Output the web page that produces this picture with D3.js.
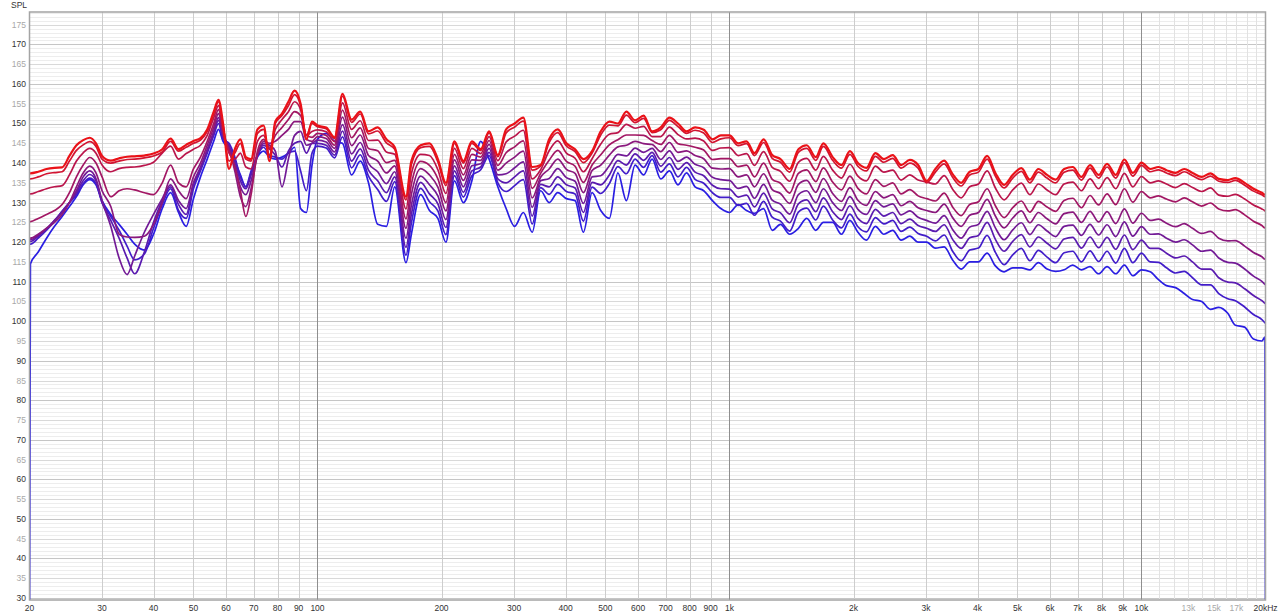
<!DOCTYPE html>
<html lang="en">
<head>
<meta charset="UTF-8" />
<title>SPL</title>
<script src="https://cdn.jsdelivr.net/npm/d3@7"></script>
<style>
  body { margin: 0; background: #fff; }
  svg { display: block; font-family: "Liberation Sans", Arial, sans-serif; }
</style>
</head>
<body>
<div class="chart"></div>
<script>
// frequencies (Hz) shared by every trace
const freqs = [
  20, 20.1, 21, 22, 23, 24, 25, 26, 27, 28, 29, 30, 31.5, 33, 34.5, 36, 38, 40, 42, 44, 46, 48, 50, 52, 54, 56,
  57.5, 59, 61, 63, 65, 67, 69, 71.5, 74, 76.5, 79, 82, 85, 88, 91, 94, 97,
  100, 105, 110, 115, 121, 127, 133, 140, 147, 154, 164, 169, 178, 187, 196, 205, 215, 226, 237, 249,
  261, 274, 287, 301, 316, 332, 348, 365, 383, 402, 422, 442, 464, 487, 511, 536, 562, 590, 619, 649,
  681, 715, 750, 787, 825, 866, 909, 953,
  1000, 1050, 1100, 1150, 1210, 1270, 1330, 1400, 1470, 1540, 1620, 1690, 1780, 1870, 1960, 2050, 2150,
  2260, 2370, 2490, 2610, 2740, 2870, 3010, 3160, 3320, 3480, 3650, 3830, 4020, 4220, 4420, 4640, 4870,
  5110, 5360, 5620, 5900, 6190, 6490, 6810, 7150, 7500, 7870, 8250, 8660, 9090, 9530,
  10000, 10500, 11000, 11500, 12100, 12700, 13300, 14000, 14700, 15400, 16200, 16900, 17800, 18700,
  19600, 19950, 20000
];

// SPL traces, red (first) to blue (last)
const spl1 = [
  137.4, 137.4, 137.8, 138.5, 138.8, 138.9, 141.8, 144.5, 145.8, 146.4, 145.0, 141.8, 140.6, 141.2, 141.6, 141.7, 141.9, 142.4, 143.5, 146.2, 143.5, 144.6, 145.6, 146.3, 148.5, 153.0,
  156.0, 150.0, 138.5, 143.5, 146.0, 141.5, 141.0, 148.5, 149.5, 140.5, 150.5, 152.5, 155.5, 158.3, 155.0, 146.0, 150.5,
  149.5, 149.0, 146.5, 157.5, 151.0, 153.0, 148.0, 149.0, 146.0, 144.0, 131.5, 140.5, 144.5, 145.0, 141.0, 135.0, 145.5, 140.5, 145.5, 143.5,
  148.0, 142.0, 148.5, 150.0, 151.5, 139.0, 139.5, 146.0, 148.5, 145.0, 143.5, 141.0, 143.0, 148.0, 150.5, 150.0, 153.0, 150.8, 152.0, 148.0,
  149.0, 151.5, 150.0, 148.0, 149.0, 148.4, 146.0, 147.0,
  147.0, 145.0, 145.5, 142.5, 146.0, 142.0, 141.0, 138.5, 143.5, 144.5, 141.5, 145.0, 141.5, 139.5, 143.0, 140.0, 138.8,
  142.5, 141.0, 142.0, 139.5, 140.8, 139.5, 135.5, 138.5, 140.6, 137.2, 135.0, 137.8, 138.5, 141.8, 137.5, 134.5, 137.0,
  138.7, 135.8, 138.5, 137.0, 135.8, 138.5, 139.0, 136.5, 139.5, 137.0, 139.8, 137.0, 140.9, 137.5,
  140.1, 138.5, 139.0, 138.2, 137.5, 138.5, 137.5, 136.5, 137.4, 136.0, 135.7, 136.2, 135.0, 133.5, 132.5, 132.0, 132.0
];
const spl2 = [
  136.0, 136.0, 136.5, 137.3, 137.6, 137.8, 140.5, 143.2, 144.6, 145.4, 144.2, 141.0, 140.0, 140.5, 140.9, 141.0, 141.3, 141.8, 142.8, 145.5, 143.0, 144.0, 145.0, 145.8, 148.0, 152.5,
  155.5, 149.5, 140.5, 142.5, 145.0, 141.0, 140.5, 147.5, 148.5, 142.0, 150.0, 152.0, 154.5, 157.3, 154.5, 147.0, 150.0,
  149.2, 148.7, 146.2, 156.9, 150.3, 152.4, 147.4, 148.1, 145.1, 143.5, 130.7, 139.6, 143.9, 144.2, 140.3, 134.3, 145.0, 140.0, 145.0, 143.2,
  147.6, 141.6, 147.6, 149.1, 150.6, 138.2, 139.2, 145.2, 147.7, 144.3, 142.9, 140.1, 142.5, 147.1, 149.6, 149.4, 152.1, 150.2, 151.3, 147.7,
  148.4, 150.8, 149.2, 147.5, 148.3, 147.6, 145.2, 146.1,
  146.4, 144.4, 144.9, 141.9, 145.2, 141.2, 140.2, 137.7, 142.7, 143.7, 140.7, 144.2, 140.7, 138.7, 142.2, 139.2, 138.0,
  141.7, 140.2, 141.2, 138.7, 140.0, 138.7, 135.0, 137.7, 139.8, 136.4, 134.2, 137.0, 137.7, 141.0, 136.7, 133.7, 136.2,
  137.9, 135.0, 137.7, 136.2, 135.0, 137.7, 138.2, 135.7, 138.7, 136.2, 139.0, 136.2, 140.1, 136.7,
  139.4, 137.8, 138.3, 137.5, 136.8, 137.8, 136.8, 135.8, 136.7, 135.4, 135.1, 135.6, 134.4, 132.9, 132.0, 131.5, 131.5
];
const spl3 = [
  132.2, 132.2, 132.8, 133.5, 134.0, 134.3, 137.0, 140.5, 142.6, 143.7, 142.5, 139.5, 137.8, 138.6, 138.9, 139.0, 139.4, 140.2, 142.5, 144.3, 141.0, 142.4, 143.5, 144.5, 147.0, 151.5,
  154.5, 149.0, 142.5, 141.0, 142.5, 139.0, 138.5, 145.5, 147.0, 143.5, 148.5, 151.0, 153.0, 155.5, 153.5, 147.0, 148.0,
  148.4, 147.9, 145.4, 155.2, 148.5, 150.7, 145.7, 145.8, 142.8, 142.2, 128.4, 137.3, 142.2, 141.9, 138.3, 132.3, 143.7, 138.6, 143.7, 142.4,
  146.7, 140.6, 145.3, 146.8, 148.3, 136.0, 138.3, 143.1, 145.6, 142.5, 141.2, 137.8, 141.1, 144.8, 147.3, 147.7, 149.8, 148.8, 149.3, 146.7,
  146.7, 149.1, 147.2, 146.1, 146.3, 145.6, 143.2, 143.8,
  143.9, 141.9, 142.4, 139.4, 142.9, 138.9, 137.9, 135.4, 140.2, 141.2, 138.2, 141.7, 138.2, 136.2, 139.7, 136.7, 135.5,
  139.2, 137.7, 138.2, 135.7, 137.0, 135.7, 135.2, 134.7, 136.8, 133.4, 131.2, 134.0, 134.7, 138.0, 133.7, 130.7, 133.2,
  134.9, 132.0, 134.7, 133.2, 132.0, 134.7, 135.2, 133.0, 136.0, 133.5, 136.3, 133.5, 137.4, 134.0,
  136.6, 135.0, 135.5, 134.7, 133.8, 134.8, 133.8, 132.8, 133.7, 131.9, 131.6, 132.1, 130.9, 129.4, 128.4, 127.9, 127.8
];
const spl4 = [
  125.2, 125.2, 126.0, 127.0, 128.0, 129.5, 132.5, 136.5, 139.5, 141.4, 140.0, 136.5, 131.5, 133.0, 133.5, 133.2, 132.5, 132.0, 135.0, 139.5, 135.0, 134.0, 138.5, 141.5, 145.5, 150.0,
  153.5, 148.0, 143.0, 139.0, 133.0, 126.5, 132.0, 143.0, 146.0, 144.0, 147.0, 149.0, 151.0, 153.0, 152.0, 147.0, 146.5,
  147.5, 147.0, 144.5, 153.4, 146.4, 148.9, 143.7, 143.1, 140.1, 140.7, 125.9, 134.6, 140.4, 139.4, 136.0, 130.0, 142.2, 137.0, 142.2, 141.5,
  145.7, 139.4, 142.6, 144.1, 145.6, 133.6, 137.4, 140.7, 143.2, 140.4, 139.2, 135.1, 139.5, 142.1, 144.6, 145.9, 147.1, 147.1, 147.0, 145.7,
  144.7, 147.0, 144.9, 144.5, 144.0, 143.3, 140.9, 141.1,
  141.1, 139.1, 139.5, 136.5, 140.0, 135.9, 134.9, 132.4, 137.4, 138.3, 135.3, 138.8, 135.2, 133.2, 136.7, 133.6, 132.2,
  135.8, 134.1, 135.0, 132.2, 133.3, 131.7, 131.0, 130.4, 132.4, 128.9, 126.7, 129.5, 130.2, 133.5, 129.2, 126.2, 128.7,
  130.4, 127.6, 130.3, 128.9, 127.8, 130.5, 131.1, 128.7, 131.8, 129.4, 132.2, 129.5, 133.5, 130.1,
  132.8, 131.2, 131.7, 130.9, 130.2, 131.2, 130.2, 129.1, 129.9, 128.4, 127.9, 128.2, 126.9, 125.3, 124.2, 123.6, 123.6
];
const spl5 = [
  121.0, 121.0, 122.0, 123.5, 125.0, 127.0, 130.0, 134.0, 137.5, 139.2, 137.5, 133.0, 129.0, 122.0, 121.3, 121.2, 121.5, 124.5, 130.0, 136.0, 133.0, 131.0, 136.5, 140.0, 144.5, 149.0,
  152.5, 147.5, 143.5, 138.0, 131.5, 129.0, 133.5, 142.0, 145.5, 145.0, 145.5, 147.0, 148.5, 150.5, 150.5, 146.0, 145.5,
  146.7, 146.2, 143.7, 151.6, 144.4, 147.1, 141.9, 140.5, 137.5, 139.3, 123.5, 132.0, 138.6, 137.0, 133.9, 127.9, 140.8, 135.6, 140.8, 140.7,
  144.7, 138.2, 140.0, 141.5, 143.0, 131.2, 136.4, 138.5, 141.0, 138.4, 137.4, 132.5, 138.1, 139.5, 142.0, 144.1, 144.5, 145.5, 144.9, 144.7,
  142.9, 145.2, 142.7, 143.1, 141.9, 141.1, 138.7, 138.5,
  138.6, 136.5, 137.0, 134.0, 137.3, 133.3, 132.3, 129.8, 134.6, 135.6, 132.6, 136.1, 132.3, 130.3, 133.8, 130.6, 129.3,
  132.8, 131.2, 132.0, 129.2, 130.3, 128.7, 128.0, 127.5, 129.6, 126.2, 124.0, 126.8, 127.5, 130.8, 126.6, 123.6, 126.1,
  127.9, 124.9, 127.5, 125.9, 124.6, 127.2, 127.6, 125.0, 127.8, 125.1, 127.7, 124.7, 128.4, 124.8,
  127.3, 125.5, 125.8, 124.8, 123.9, 124.7, 123.5, 122.2, 122.7, 121.0, 120.3, 120.4, 119.0, 117.4, 116.3, 115.7, 115.7
];
const spl6 = [
  120.6, 120.6, 121.8, 123.5, 125.5, 127.5, 130.0, 133.0, 136.5, 138.0, 136.0, 130.5, 124.0, 116.0, 111.8, 116.5, 122.5, 127.0, 131.0, 134.5, 130.5, 128.5, 135.0, 139.0, 143.5, 148.0,
  151.5, 147.0, 144.0, 139.5, 134.0, 132.0, 135.5, 142.0, 145.0, 144.5, 143.0, 134.0, 141.0, 147.0, 148.0, 144.5, 145.0,
  145.8, 145.3, 142.8, 149.7, 142.3, 145.2, 139.9, 137.8, 134.8, 137.8, 121.0, 129.3, 136.7, 134.5, 131.7, 125.7, 139.3, 134.0, 139.3, 139.8,
  143.7, 137.0, 137.3, 138.8, 140.3, 128.8, 135.5, 136.1, 138.6, 136.3, 135.4, 129.8, 136.5, 136.8, 139.3, 142.2, 141.8, 143.8, 142.7, 143.7,
  140.9, 143.1, 140.4, 141.5, 139.7, 138.8, 136.4, 135.8,
  135.6, 133.6, 134.1, 131.1, 134.6, 130.6, 129.6, 127.1, 132.0, 133.0, 130.0, 133.5, 130.0, 128.0, 131.5, 128.3, 127.0,
  130.5, 128.9, 129.7, 126.9, 127.9, 126.3, 125.5, 124.8, 126.7, 123.2, 121.0, 123.8, 124.5, 127.8, 123.6, 120.6, 123.1,
  124.9, 121.9, 124.4, 122.8, 121.4, 124.0, 124.3, 121.7, 124.5, 121.8, 124.4, 121.4, 125.1, 121.5,
  123.9, 122.0, 122.1, 121.0, 120.0, 120.6, 119.3, 117.7, 118.0, 116.0, 114.9, 114.7, 113.2, 111.4, 110.1, 109.3, 109.2
];
const spl7 = [
  120.2, 120.2, 121.5, 123.3, 125.5, 127.8, 130.0, 132.5, 135.5, 137.1, 135.5, 130.0, 125.5, 121.0, 116.0, 112.0, 117.5, 125.0, 130.5, 134.0, 129.5, 127.0, 134.5, 138.5, 143.0, 147.5,
  150.8, 146.5, 144.5, 140.5, 135.5, 133.5, 137.0, 142.0, 144.5, 143.5, 142.0, 139.0, 143.0, 145.0, 145.5, 142.5, 145.0,
  145.0, 144.5, 142.0, 148.1, 140.5, 143.6, 138.2, 135.5, 132.5, 136.5, 118.7, 127.0, 135.1, 132.2, 129.7, 123.7, 138.0, 132.6, 138.0, 139.0,
  142.7, 136.0, 135.0, 136.5, 138.0, 126.6, 134.6, 134.0, 136.5, 134.5, 133.7, 127.5, 135.1, 134.5, 137.0, 140.6, 139.5, 142.3, 140.7, 142.7,
  139.2, 141.4, 138.4, 140.1, 137.7, 136.8, 134.4, 133.5,
  133.4, 131.4, 131.9, 128.9, 132.4, 128.4, 127.4, 124.9, 129.7, 130.7, 127.7, 131.2, 127.7, 125.7, 129.2, 126.0, 124.7,
  128.3, 126.6, 127.5, 124.7, 125.8, 124.2, 123.5, 122.7, 124.4, 120.7, 118.4, 121.1, 121.7, 125.0, 120.7, 117.7, 120.2,
  121.9, 118.8, 121.3, 119.7, 118.3, 120.8, 121.2, 118.5, 121.3, 118.6, 121.2, 118.2, 121.8, 118.1,
  120.5, 118.4, 118.4, 117.2, 116.0, 116.5, 115.0, 113.2, 113.2, 111.0, 109.9, 109.7, 108.2, 106.5, 105.2, 104.5, 104.4
];
const spl8 = [
  119.5, 119.5, 121.0, 123.0, 125.3, 127.8, 130.0, 132.0, 134.8, 136.2, 134.8, 130.0, 126.5, 123.0, 119.0, 115.5, 117.0, 123.5, 129.5, 133.5, 128.0, 126.0, 133.5, 138.0, 142.5, 147.0,
  150.0, 146.0, 145.0, 141.5, 136.5, 134.0, 138.0, 142.0, 144.0, 142.0, 141.5, 141.0, 142.5, 143.0, 138.0, 133.0, 142.5,
  144.3, 143.8, 141.3, 146.6, 138.8, 142.1, 136.7, 133.3, 130.3, 135.3, 116.7, 124.8, 133.6, 130.2, 127.9, 121.9, 136.8, 131.4, 136.8, 138.3,
  141.9, 135.0, 132.8, 134.3, 135.8, 124.6, 133.8, 132.1, 134.6, 132.8, 132.2, 125.3, 133.9, 132.3, 134.8, 139.1, 137.3, 141.0, 138.9, 141.9,
  137.7, 139.8, 136.5, 138.9, 135.9, 134.9, 132.5, 131.3,
  131.3, 129.3, 129.8, 126.8, 130.3, 126.3, 125.3, 122.8, 127.6, 128.6, 125.6, 129.1, 125.6, 123.6, 127.1, 123.9, 122.6,
  126.2, 124.6, 125.5, 122.7, 123.8, 122.2, 121.5, 120.3, 121.8, 117.7, 115.3, 118.0, 118.5, 121.7, 117.4, 114.3, 116.8,
  118.4, 115.3, 117.9, 116.2, 114.8, 117.3, 117.7, 115.0, 117.8, 115.1, 117.7, 114.7, 118.4, 114.8,
  117.2, 115.0, 114.9, 113.5, 112.2, 112.6, 111.0, 109.2, 109.2, 107.0, 105.7, 105.2, 103.6, 101.7, 100.4, 99.6, 99.5
];
const spl9 = [
  20, 114.5, 117.5, 121.0, 124.0, 126.5, 129.0, 131.5, 134.5, 135.8, 134.5, 130.5, 127.0, 124.5, 122.0, 119.5, 118.0, 122.0, 128.5, 132.5, 127.5, 124.0, 131.0, 136.5, 141.0, 145.5,
  148.5, 145.5, 143.5, 140.5, 137.0, 134.0, 137.5, 141.5, 143.0, 141.5, 141.0, 141.5, 142.5, 144.0, 128.5, 127.5, 139.5,
  146.0, 147.5, 145.5, 145.0, 137.0, 140.5, 135.0, 124.5, 124.0, 134.0, 114.8, 122.0, 132.0, 128.0, 126.0, 120.0, 135.5, 130.0, 135.5, 145.5,
  141.0, 134.0, 128.5, 124.0, 127.5, 122.5, 133.0, 130.0, 132.5, 131.0, 130.5, 122.5, 132.5, 128.0, 126.0, 137.5, 130.5, 139.5, 137.0, 141.0,
  136.0, 138.0, 134.5, 137.5, 134.0, 133.0, 130.5, 128.5,
  127.5, 129.5, 128.0, 127.3, 128.5, 123.0, 124.5, 122.0, 123.5, 126.0, 123.0, 125.0, 125.0, 122.0, 125.5, 122.5, 120.5,
  124.0, 122.0, 123.0, 120.5, 121.5, 120.0, 120.0, 118.5, 118.8, 115.5, 113.2, 115.0, 115.0, 117.2, 114.0, 112.5, 113.5,
  113.5, 113.0, 114.8, 113.2, 112.6, 113.0, 114.2, 113.0, 113.8, 112.0, 113.8, 112.0, 114.2, 111.5,
  113.0, 112.5, 110.5, 109.0, 108.5, 107.0, 105.5, 105.0, 103.0, 103.5, 102.0, 99.0, 98.5, 95.5, 95.0, 96.0, 20
];
const traces = [spl1, spl2, spl3, spl4, spl5, spl6, spl7, spl8, spl9];

const yTicks = [30, 35, 40, 45, 50, 55, 60, 65, 70, 75, 80, 85, 90, 95, 100, 105, 110, 115, 120, 125,
  130, 135, 140, 145, 150, 155, 160, 165, 170, 175];
const xTicks = [20, 30, 40, 50, 60, 70, 80, 90, 100, 200, 300, 400, 500, 600, 700, 800, 900,
  1000, 2000, 3000, 4000, 5000, 6000, 7000, 8000, 9000, 10000, 13000, 15000, 17000, 20000];
const xTickLabels = ["20", "30", "40", "50", "60", "70", "80", "90", "100", "200", "300", "400", "500",
  "600", "700", "800", "900", "1k", "2k", "3k", "4k", "5k", "6k", "7k", "8k", "9k", "10k", "13k", "15k",
  "17k", "20kHz"];
const faintLabels = ["13k", "15k", "17k"];

const width = 1280;
const height = 616;
const plotLeft = 29.5, plotRight = 1265.5, plotTop = 12, plotBottom = 600;

const svg = d3.select(".chart").append("svg")
  .attr("width", width)
  .attr("height", height);

const x = d3.scaleLog().domain([20, 20000]).range([plotLeft, plotRight]);
const y = d3.scaleLinear().domain([29.5, 178.2]).range([plotBottom, plotTop]);

// horizontal grid, one line per dB
const grid = svg.append("g");
grid.selectAll(".hg")
  .data(d3.range(30, 179))
  .enter()
  .append("line")
  .attr("x1", plotLeft).attr("x2", plotRight)
  .attr("y1", d => Math.round(y(d)) + 0.5)
  .attr("y2", d => Math.round(y(d)) + 0.5)
  .attr("stroke", d => d % 10 === 0 ? "#c6c6c6" : d % 5 === 0 ? "#d9d9d9" : "#ededed");

// vertical grid
const vLines = [];
[10, 100, 1000].forEach(dec => {
  for (let m = 2; m <= 9; m++) vLines.push({ f: m * dec, c: "#cdcdcd" });
});
vLines.push({ f: 100, c: "#8e8e8e" }, { f: 1000, c: "#8e8e8e" }, { f: 10000, c: "#8e8e8e" });
for (let k = 11; k <= 19; k++) vLines.push({ f: k * 1000, c: "#e2e2e2" });

grid.selectAll(".vg")
  .data(vLines.filter(d => d.f > 20))
  .enter()
  .append("line")
  .attr("x1", d => Math.round(x(d.f)) + 0.5)
  .attr("x2", d => Math.round(x(d.f)) + 0.5)
  .attr("y1", plotTop).attr("y2", plotBottom)
  .attr("stroke", d => d.c);

// traces
svg.append("clipPath").attr("id", "plot")
  .append("rect")
  .attr("x", plotLeft).attr("y", plotTop)
  .attr("width", plotRight - plotLeft).attr("height", plotBottom - plotTop);

const color = d3.interpolateRgb("#ea1218", "#2a1ee2");
const line = d3.line()
  .x((d, i) => x(freqs[i]))
  .y(d => y(d))
  .curve(d3.curveMonotoneX);

svg.append("g")
  .attr("clip-path", "url(#plot)")
  .selectAll("path")
  .data(traces.map((t, i) => ({ t, i })).reverse())
  .enter()
  .append("path")
  .attr("d", d => line(d.t))
  .attr("fill", "none")
  .attr("stroke", d => color(d.i / (traces.length - 1)))
  .attr("stroke-width", d => d.i === 0 ? 2.2 : 1.7)
  .attr("stroke-linejoin", "round");

// frame
svg.append("rect")
  .attr("x", plotLeft).attr("y", plotTop)
  .attr("width", plotRight - plotLeft).attr("height", plotBottom - plotTop)
  .attr("fill", "none")
  .attr("stroke", "#a4a4a4")
  .attr("stroke-width", 1.5);

// y labels
svg.append("g")
  .selectAll("text")
  .data(yTicks)
  .enter()
  .append("text")
  .attr("x", 26)
  .attr("y", d => y(d))
  .attr("dy", "0.35em")
  .attr("text-anchor", "end")
  .style("font-size", "8.5px")
  .attr("fill", d => d % 10 === 0 ? "#333" : "#a8a8a8")
  .text(d => d);

svg.append("text")
  .attr("x", 11).attr("y", 8)
  .style("font-size", "8.5px")
  .attr("fill", "#333")
  .text("SPL");

// x labels
svg.append("g")
  .selectAll("text")
  .data(xTicks)
  .enter()
  .append("text")
  .attr("x", d => x(d))
  .attr("y", 608)
  .attr("dy", "0.35em")
  .attr("text-anchor", "middle")
  .style("font-size", "8.5px")
  .attr("fill", (d, i) => faintLabels.includes(xTickLabels[i]) ? "#a8a8a8" : "#333")
  .text((d, i) => xTickLabels[i]);
</script>
</body>
</html>
